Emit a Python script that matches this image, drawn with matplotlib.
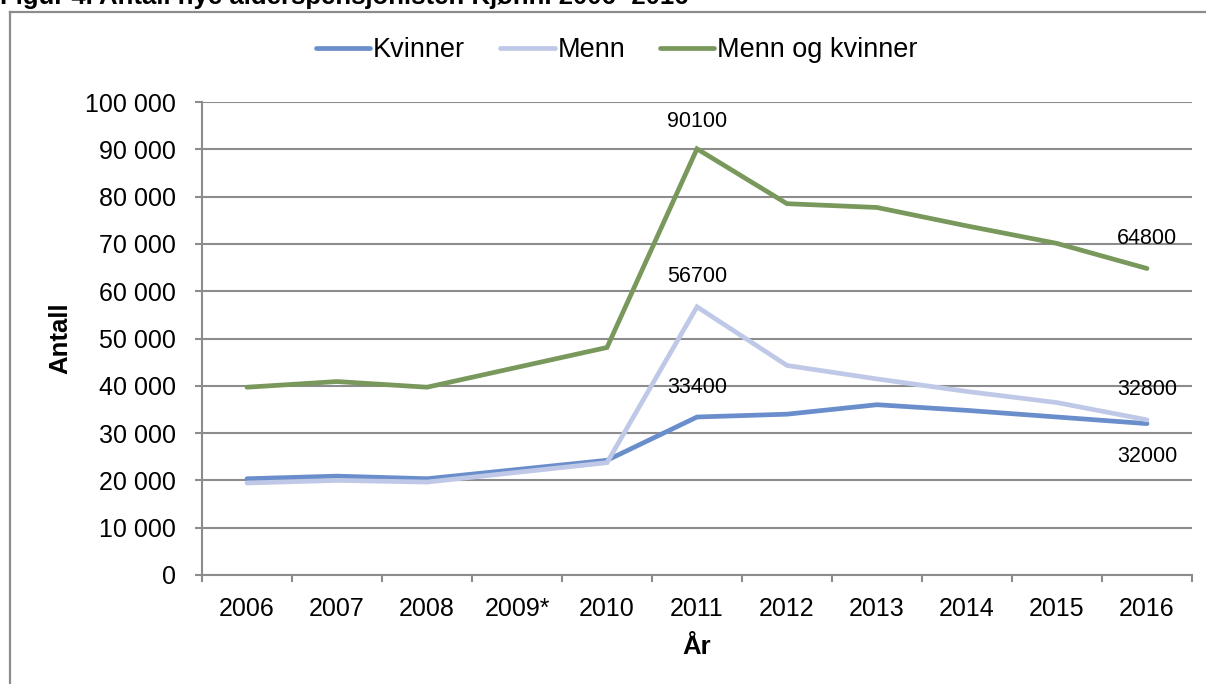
import matplotlib
matplotlib.use("Agg")
import matplotlib.pyplot as plt
from matplotlib.lines import Line2D
import numpy as np

plt.rcParams['font.family'] = ['Liberation Sans', 'DejaVu Sans']

years = ["2006", "2007", "2008", "2009*", "2010", "2011", "2012", "2013", "2014", "2015", "2016"]
kvinner = [20350, 20900, 20350, None, 24250, 33400, 34000, 36000, 34800, 33400, 32000]
menn = [19450, 20000, 19650, None, 23750, 56700, 44300, 41450, 38800, 36450, 32800]
begge = [39700, 40900, 39700, None, 48100, 90100, 78500, 77700, 73800, 70100, 64800]
yticks = [0, 10000, 20000, 30000, 40000, 50000, 60000, 70000, 80000, 90000, 100000]

series = [("Kvinner", kvinner, "#6A8ECB"),
          ("Menn", menn, "#BFC9E7"),
          ("Menn og kvinner", begge, "#79985B")]

# (series index, year index, offset in points)
labels = [(2, 5, 20), (1, 5, 21.5), (0, 5, 21.5),
          (2, 10, 21.5), (1, 10, 21.5), (0, 10, -24)]

W, H = 1206, 684
fig = plt.figure(figsize=(W / 100, H / 100), dpi=100)
ax = fig.add_axes([202 / W, (H - 575) / H, 990 / W, 473 / H])

grid_c = "#8C8C8C"
handles = []
for name, vals, col in series:
    xs = [i for i, v in enumerate(vals) if v is not None]
    ys = [v for v in vals if v is not None]
    ln, = ax.plot(xs, ys, color=col, lw=3.4, solid_capstyle='round',
                  solid_joinstyle='miter', label=name, zorder=3)
    handles.append(ln)

for si, yi, off in labels:
    v = series[si][1][yi]
    ax.annotate(f"{v}", (yi, v), xytext=(0, off), textcoords='offset points',
                ha='center', va='center', fontsize=15.5, color='black', zorder=5)

ax.set_xlim(-0.5, len(years) - 0.5)
ax.set_ylim(0, 100000)
ax.set_yticks(yticks)
ax.set_yticklabels([f"{t:,}".replace(",", " ") for t in yticks], fontsize=18)
ax.set_xticks(range(len(years)))
ax.set_xticklabels(years, fontsize=18)
ax.set_xticks(np.arange(-0.5, len(years), 1.0), minor=True)
ax.tick_params(axis='x', which='major', length=0, pad=16)
ax.tick_params(axis='x', which='minor', length=5, width=1.5, color=grid_c)
ax.tick_params(axis='y', length=5, width=1.5, color=grid_c, pad=14)
ax.yaxis.grid(True, color=grid_c, lw=1.5, zorder=0)
ax.set_axisbelow(True)
for s in ['top', 'right']:
    ax.spines[s].set_visible(False)
for s in ['left', 'bottom']:
    ax.spines[s].set_color(grid_c)
    ax.spines[s].set_linewidth(1.5)

fig.text(60 / W, 1 - 338 / H, "Antall", rotation=90, ha='center', va='center',
         fontsize=18.5, fontweight='bold')
fig.text(697 / W, 1 - 647 / H, "År", ha='center', va='center',
         fontsize=18.5, fontweight='bold')

fig.legend(handles=handles, loc='center', bbox_to_anchor=(617 / W, 1 - 50 / H),
           ncol=3, frameon=False, fontsize=19.5, handlelength=2.0,
           handletextpad=0.1, columnspacing=1.3)

# outer frame (partially visible)
fig.add_artist(Line2D([10 / W, 1.0], [1 - 12 / H, 1 - 12 / H], color="#8C8C8C", lw=1.6,
                      transform=fig.transFigure))
fig.add_artist(Line2D([10 / W, 10 / W], [0, 1 - 12 / H], color="#8C8C8C", lw=1.6,
                      transform=fig.transFigure))

# title (cut off at the top)
fig.text(0, 1 - 4 / H, "Figur 4. Antall nye alderspensjonister. Kjønn. 2006- 2016",
         ha='left', va='baseline', fontsize=18.5, fontweight='bold')

fig.savefig("out.png", dpi=100)
